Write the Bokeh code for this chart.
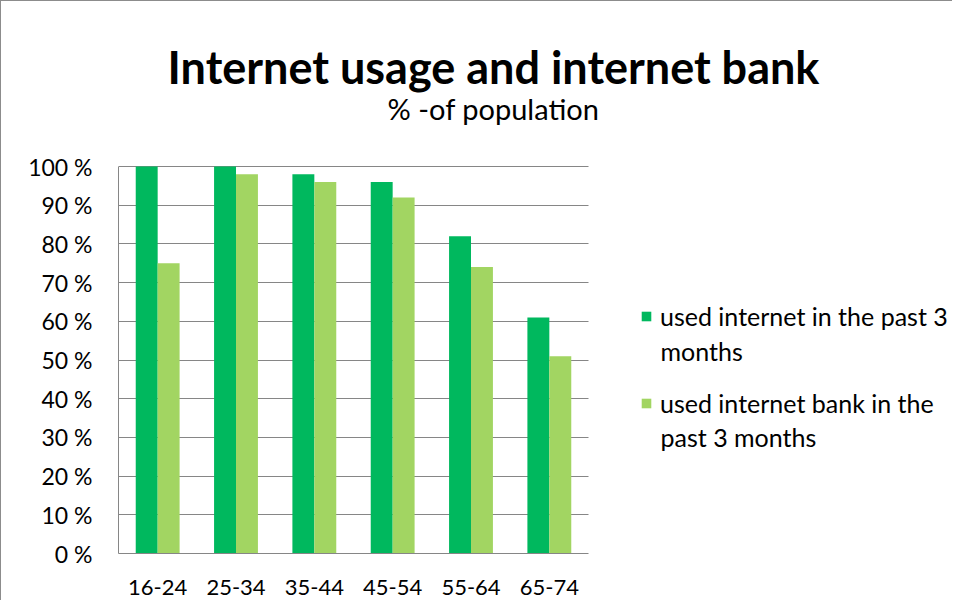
import numpy as np
from bokeh.plotting import figure
from bokeh.models import ColumnDataSource, Range1d, Legend, LegendItem, Label, FixedTicker
from bokeh.embed import file_html
from bokeh.resources import INLINE

categories = ["16-24", "25-34", "35-44", "45-54", "55-64", "65-74"]
used_internet = [100, 100, 98, 96, 82, 61]
used_bank = [75, 98, 96, 92, 74, 51]
series_first_lines = ["used internet in the past 3", "used internet bank in the"]
series_second_lines = ["months", "past 3 months"]
y_ticks = [0, 10, 20, 30, 40, 50, 60, 70, 80, 90, 100]
title_text = "Internet usage and internet bank"
subtitle_text = "% -of population"

DARK = "#00B85E"
LIGHT = "#A2D562"
GRID = "#868686"
FONT = "Lato"

W, H = 952, 600
LEFT, BOTTOM = 117, 48
PLOT_W, PLOT_H = 470, 387          # pixel size of the bar area
n = len(categories)
x_end = n * (W - LEFT) / PLOT_W    # frame extends to the right edge (legend area)
y_end = 100 * (H - BOTTOM) / PLOT_H  # frame extends to the top edge (title area)

p = figure(width=W, height=H, x_range=Range1d(0, x_end), y_range=Range1d(0, y_end),
           output_backend="svg", toolbar_location=None,
           min_border_left=LEFT, min_border_right=0, min_border_top=0, min_border_bottom=BOTTOM)
p.styles = {"border-left": "1px solid #8c8c8c", "border-top": "1px solid #8c8c8c"}
p.outline_line_color = None
p.xgrid.grid_line_color = None

centers = np.arange(n) + 0.5
src = ColumnDataSource(dict(x1=centers - 0.14, x2=centers + 0.14, a=used_internet, b=used_bank))

grid = p.ygrid[0]
grid.ticker = FixedTicker(ticks=y_ticks)
if "cross_bounds" in grid.properties():
    grid.cross_bounds = (0, n)
    grid.grid_line_color = GRID
    grid.bounds = (0, 100)
else:
    grid.grid_line_color = None
    p.segment(x0=0, x1=n, y0=y_ticks, y1=y_ticks, line_color=GRID, line_width=1)

r1 = p.vbar(x="x1", top="a", width=0.28, source=src, fill_color=DARK, line_color=None)
r2 = p.vbar(x="x2", top="b", width=0.28, source=src, fill_color=LIGHT, line_color=None)

p.yaxis.ticker = FixedTicker(ticks=y_ticks)
p.yaxis.major_label_overrides = {t: f"{t} %" for t in y_ticks}
p.yaxis.bounds = (0, 100)
p.xaxis.ticker = FixedTicker(ticks=list(centers))
p.xaxis.major_label_overrides = {float(c): cat for c, cat in zip(centers, categories)}
p.xaxis.bounds = (0, n)
for ax in (p.xaxis[0], p.yaxis[0]):
    ax.axis_line_color = GRID
    ax.major_tick_line_color = None
    ax.minor_tick_line_color = None
    ax.major_label_text_font = FONT
    ax.major_label_text_color = "#000000"
p.yaxis.major_label_text_font_size = "23px"
p.xaxis.major_label_text_font_size = "22px"
p.yaxis.major_label_standoff = 20
p.xaxis.major_label_standoff = 20

legend = Legend(items=[LegendItem(label=series_first_lines[0], renderers=[r1]),
                       LegendItem(label=series_first_lines[1], renderers=[r2])],
                location=(522, 135), orientation="vertical", padding=0, margin=0, spacing=57,
                glyph_width=12, glyph_height=12, label_standoff=8,
                label_text_font=FONT, label_text_font_size="25px", label_text_color="#000000",
                border_line_color=None, background_fill_alpha=0)
p.add_layout(legend, "center")

px_x = PLOT_W / n       # pixels per category
px_y = PLOT_H / 100     # pixels per percent
label_x = (522 + 12 + 8) / px_x
for txt, yy in zip(series_second_lines, [(H - BOTTOM - 349) / px_y, (H - BOTTOM - 435) / px_y]):
    p.add_layout(Label(x=label_x, y=yy, text=txt, text_font=FONT, text_font_size="25px",
                       text_color="#000000", text_align="left", text_baseline="middle"))

title_x = (492 - LEFT) / px_x
p.add_layout(Label(x=title_x, y=(H - BOTTOM - 65) / px_y, text=title_text, text_font=FONT,
                   text_font_style="bold", text_font_size="45px", text_color="#000000",
                   text_align="center", text_baseline="middle"))
p.add_layout(Label(x=title_x, y=(H - BOTTOM - 107) / px_y, text=subtitle_text, text_font=FONT,
                   text_font_size="29px", text_color="#000000",
                   text_align="center", text_baseline="middle"))

open("out.html", "w").write(file_html(p, INLINE))
